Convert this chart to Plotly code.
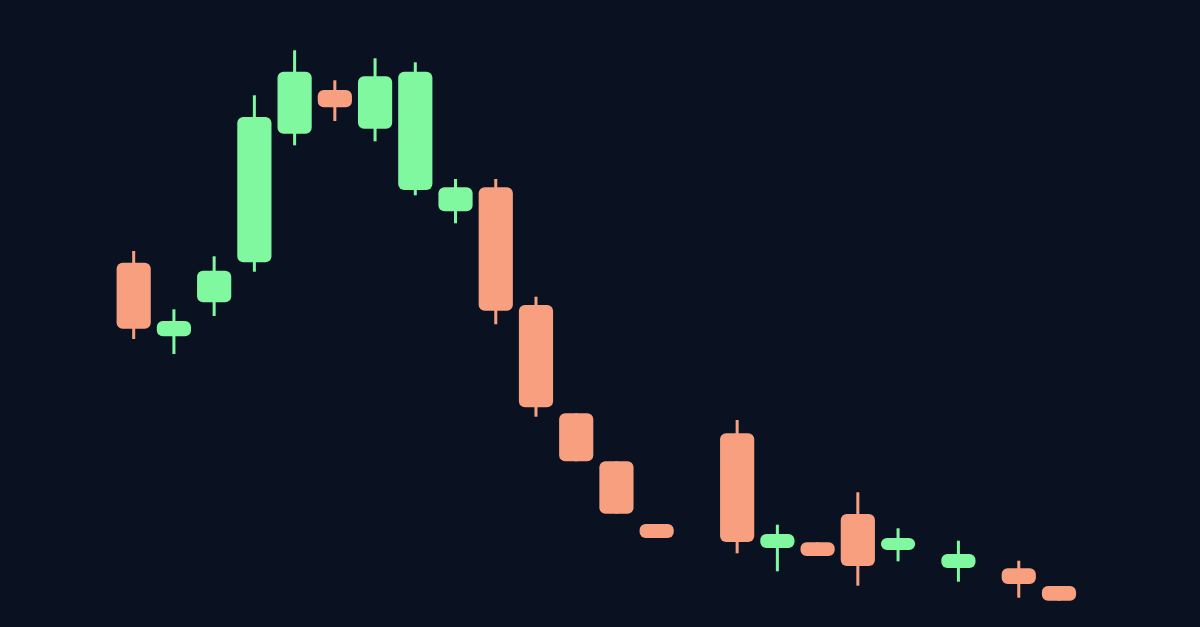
import plotly.graph_objects as go

# Candle positions (period index; gaps where no candle was drawn)
x_pos = [0, 1, 2, 3, 4, 5, 6, 7, 8, 9, 10, 11, 12, 13, 15, 16, 17, 18, 19, 20.5, 22, 23]
open_v = [36.43, 29.07, 32.47, 36.47, 49.33, 53.70, 49.83, 43.70, 41.57, 43.97, 32.20,
          21.37, 16.57, 10.30, 19.37, 7.90, 8.47, 11.30, 7.70, 5.90, 5.87, 4.10]
close_v = [29.83, 30.60, 35.63, 51.00, 55.53, 51.97, 55.07, 55.53, 43.97, 31.63, 21.97,
           16.57, 11.33, 8.90, 8.50, 9.30, 7.10, 6.10, 8.90, 7.30, 4.30, 2.63]
high_v = [37.60, 31.77, 37.07, 53.17, 57.67, 54.67, 56.87, 56.47, 44.80, 44.80, 33.03,
          21.37, 16.57, 10.30, 20.70, 10.23, 8.47, 13.47, 9.87, 8.63, 6.63, 4.10]
low_v = [28.80, 27.30, 31.10, 35.53, 48.17, 50.60, 48.57, 43.17, 40.37, 30.27, 21.03,
         16.57, 11.33, 8.90, 7.37, 5.57, 7.10, 4.13, 6.57, 4.53, 2.93, 2.63]

UP = "#80f8a0"
DOWN = "#f89f80"
BG = "#0a1222"

colors = [UP if c >= o else DOWN for o, c in zip(open_v, close_v)]
body_base = [min(o, c) for o, c in zip(open_v, close_v)]
body_h = [abs(c - o) for o, c in zip(open_v, close_v)]
wick_h = [h - l for h, l in zip(high_v, low_v)]

fig = go.Figure()
fig.add_trace(go.Bar(
    x=x_pos, y=wick_h, base=low_v, width=0.075,
    marker=dict(color=colors, line=dict(width=0)),
    hoverinfo="skip",
))
fig.add_trace(go.Bar(
    x=x_pos, y=body_h, base=body_base, width=0.85,
    marker=dict(color=colors, line=dict(width=0), cornerradius=6),
    hoverinfo="skip",
))

fig.update_layout(
    width=1200, height=627,
    barmode="overlay",
    showlegend=False,
    paper_bgcolor=BG, plot_bgcolor=BG,
    margin=dict(l=0, r=0, t=0, b=0),
    xaxis=dict(visible=False, range=[-3.323, 26.505], fixedrange=True),
    yaxis=dict(visible=False, range=[0, 62.7], fixedrange=True),
)

fig.write_html(
    "out.html",
    config={"displayModeBar": False},
    post_script=(
        "document.body.style.margin='0';"
        "document.body.style.padding='0';"
        "document.body.style.overflow='hidden';"
        "document.body.style.background='" + BG + "';"
    ),
)
